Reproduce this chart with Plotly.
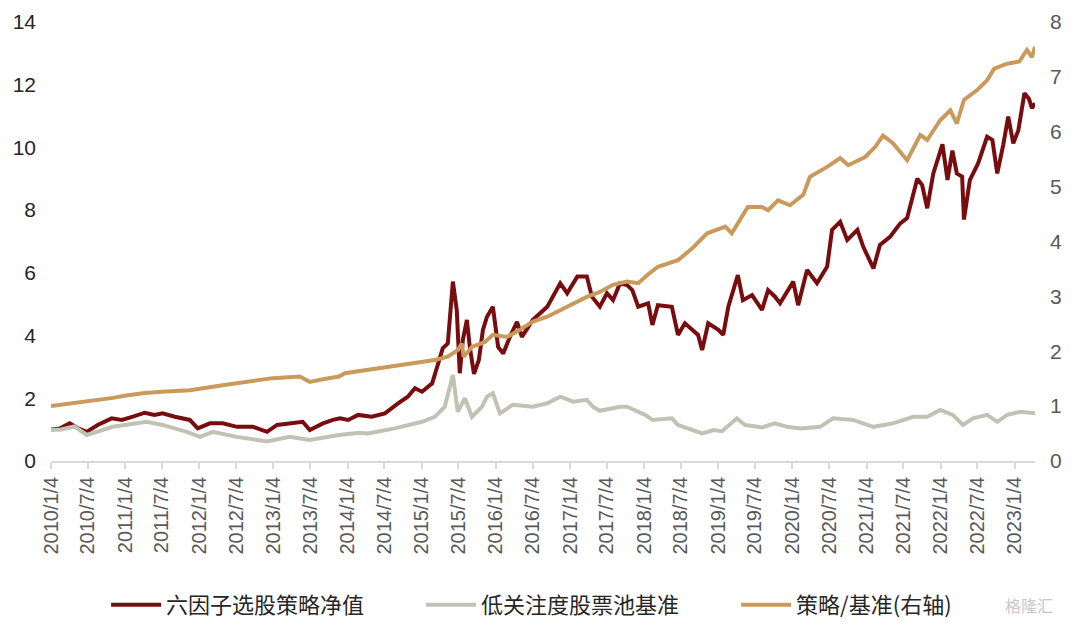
import plotly.graph_objects as go

# ---------------- data ----------------
strategy_dates = [
    "2010-01-04", "2010-02-18", "2010-04-06", "2010-05-15", "2010-06-29", "2010-08-22", "2010-10-30",
    "2010-12-19", "2011-02-08", "2011-04-11", "2011-05-29", "2011-07-08", "2011-09-06", "2011-10-25",
    "2011-11-19", "2011-12-28", "2012-02-26", "2012-04-29", "2012-07-08", "2012-09-25", "2012-12-03",
    "2013-01-22", "2013-03-25", "2013-05-28", "2013-07-02", "2013-09-05", "2013-10-24", "2013-11-28",
    "2014-01-07", "2014-02-25", "2014-05-03", "2014-07-07", "2014-09-10", "2014-10-28", "2014-12-02",
    "2015-01-06", "2015-02-25", "2015-03-24", "2015-04-18", "2015-05-13", "2015-06-07", "2015-06-26",
    "2015-07-11", "2015-07-26", "2015-08-15", "2015-08-30", "2015-09-19", "2015-10-13", "2015-11-02",
    "2015-11-22", "2015-12-21", "2016-01-16", "2016-02-10", "2016-03-14", "2016-04-18", "2016-05-12",
    "2016-07-05", "2016-09-14", "2016-11-17", "2016-12-21", "2017-02-09", "2017-03-28", "2017-04-22",
    "2017-05-31", "2017-07-05", "2017-08-04", "2017-09-08", "2017-10-12", "2017-11-07", "2017-12-06",
    "2018-01-24", "2018-02-14", "2018-03-13", "2018-05-21", "2018-06-20", "2018-07-24", "2018-09-27",
    "2018-10-17", "2018-11-16", "2019-01-05", "2019-01-29", "2019-02-23", "2019-04-11", "2019-05-06",
    "2019-06-20", "2019-08-08", "2019-09-07", "2019-10-11", "2019-11-05", "2020-01-09", "2020-02-02",
    "2020-03-17", "2020-05-05", "2020-06-24", "2020-07-18", "2020-08-27", "2020-10-01", "2020-11-20",
    "2020-12-19", "2021-02-07", "2021-03-11", "2021-04-30", "2021-06-19", "2021-07-23", "2021-09-11",
    "2021-10-05", "2021-10-30", "2021-11-29", "2022-01-13", "2022-02-07", "2022-03-03", "2022-03-25",
    "2022-04-20", "2022-04-29", "2022-05-28", "2022-07-08", "2022-08-21", "2022-09-16", "2022-10-10",
    "2022-11-09", "2022-12-03", "2022-12-28", "2023-01-22", "2023-02-21", "2023-03-15", "2023-03-30",
    "2023-04-14",
]
strategy_nav = [
    1.00, 1.04, 1.20, 1.05, 0.93, 1.15, 1.36,
    1.31, 1.41, 1.54, 1.47, 1.52, 1.41, 1.36,
    1.31, 1.04, 1.20, 1.20, 1.09, 1.09, 0.93,
    1.15, 1.20, 1.25, 0.99, 1.20, 1.31, 1.36,
    1.31, 1.47, 1.41, 1.52, 1.84, 2.05, 2.32,
    2.21, 2.48, 3.01, 3.59, 3.75, 5.72, 4.82,
    2.80, 3.86, 4.50, 3.60, 2.78, 3.22, 4.18,
    4.60, 4.92, 3.64, 3.43, 3.96, 4.44, 3.96,
    4.50, 4.92, 5.67, 5.35, 5.88, 5.88, 5.24,
    4.92, 5.35, 5.13, 5.67, 5.61, 5.45, 4.92,
    5.03, 4.34, 4.97, 4.92, 4.02, 4.39, 4.02,
    3.54, 4.39, 4.18, 4.02, 4.92, 5.93, 5.13,
    5.29, 4.82, 5.45, 5.24, 5.03, 5.72, 4.97,
    6.09, 5.67, 6.20, 7.37, 7.63, 7.05, 7.37,
    6.83, 6.14, 6.89, 7.15, 7.58, 7.75, 9.00,
    8.80, 8.06, 9.17, 10.10, 8.96, 9.90, 9.17,
    9.07, 7.70, 8.96, 9.50, 10.34, 10.24, 9.17,
    10.10, 10.98, 10.13, 10.55, 11.73, 11.55, 11.25,
    11.41,
]

benchmark_dates = [
    "2010-01-04", "2010-02-18", "2010-04-30", "2010-06-29", "2010-11-05", "2011-04-20", "2011-07-08",
    "2011-11-04", "2012-01-08", "2012-03-11", "2012-07-08", "2012-12-03", "2013-03-25", "2013-07-02",
    "2013-11-23", "2014-03-05", "2014-04-14", "2014-08-25", "2015-01-06", "2015-03-10", "2015-04-28",
    "2015-06-07", "2015-07-01", "2015-08-05", "2015-09-09", "2015-10-28", "2015-11-22", "2015-12-21",
    "2016-01-25", "2016-03-28", "2016-07-05", "2016-09-14", "2016-11-17", "2017-01-20", "2017-03-28",
    "2017-04-27", "2017-05-31", "2017-09-08", "2017-10-12", "2017-12-16", "2018-01-10", "2018-02-14",
    "2018-05-21", "2018-06-20", "2018-10-17", "2018-12-14", "2019-01-23", "2019-04-06", "2019-05-16",
    "2019-08-08", "2019-10-11", "2019-12-10", "2020-02-13", "2020-05-20", "2020-07-23", "2020-10-30",
    "2021-02-07", "2021-05-14", "2021-08-22", "2021-10-30", "2022-01-02", "2022-03-05", "2022-04-24",
    "2022-06-13", "2022-08-21", "2022-10-10", "2022-11-28", "2023-02-01", "2023-04-14",
]
benchmark_nav = [
    1.00, 1.00, 1.10, 0.83, 1.09, 1.25, 1.15,
    0.93, 0.77, 0.93, 0.77, 0.62, 0.77, 0.67,
    0.83, 0.90, 0.88, 1.04, 1.25, 1.41, 1.73,
    2.74, 1.57, 2.00, 1.41, 1.73, 2.05, 2.16,
    1.52, 1.79, 1.73, 1.84, 2.05, 1.89, 1.95,
    1.73, 1.60, 1.73, 1.73, 1.52, 1.47, 1.31,
    1.36, 1.15, 0.88, 0.99, 0.95, 1.36, 1.15,
    1.07, 1.20, 1.09, 1.04, 1.09, 1.36, 1.31,
    1.09, 1.20, 1.41, 1.41, 1.63, 1.47, 1.15,
    1.36, 1.47, 1.25, 1.47, 1.57, 1.52,
]

ratio_dates = [
    "2010-01-04", "2010-04-06", "2010-07-03", "2010-11-05", "2011-01-02", "2011-04-11", "2011-07-03",
    "2011-11-19", "2012-04-29", "2012-08-07", "2013-01-01", "2013-05-14", "2013-07-02", "2013-09-05",
    "2013-11-23", "2013-12-22", "2014-04-14", "2014-09-29", "2014-12-17", "2015-03-10", "2015-05-13",
    "2015-07-01", "2015-07-21", "2015-07-30", "2015-09-09", "2015-11-12", "2015-12-21", "2016-02-29",
    "2016-05-02", "2016-07-05", "2016-09-14", "2016-11-17", "2017-01-20", "2017-03-28", "2017-05-31",
    "2017-08-04", "2017-10-12", "2017-12-06", "2018-01-20", "2018-03-13", "2018-06-20", "2018-08-28",
    "2018-11-11", "2018-12-05", "2019-02-08", "2019-03-12", "2019-05-30", "2019-08-08", "2019-09-07",
    "2019-10-26", "2019-12-24", "2020-02-27", "2020-03-31", "2020-06-24", "2020-08-27", "2020-10-06",
    "2020-12-28", "2021-02-17", "2021-03-26", "2021-05-14", "2021-07-23", "2021-09-26", "2021-10-30",
    "2022-01-02", "2022-02-21", "2022-03-25", "2022-04-29", "2022-07-03", "2022-08-21", "2022-09-25",
    "2022-11-28", "2023-01-27", "2023-03-05", "2023-03-30", "2023-04-14",
]
ratio_nav = [
    1.00, 1.04, 1.08, 1.15, 1.19, 1.24, 1.26,
    1.29, 1.38, 1.44, 1.51, 1.54, 1.44, 1.49,
    1.54, 1.60, 1.66, 1.75, 1.78, 1.84, 1.90,
    2.02, 2.14, 1.90, 2.08, 2.17, 2.30, 2.26,
    2.39, 2.54, 2.63, 2.75, 2.87, 2.99, 3.08,
    3.21, 3.27, 3.24, 3.39, 3.54, 3.66, 3.87,
    4.15, 4.18, 4.27, 4.15, 4.63, 4.63, 4.57,
    4.75, 4.66, 4.85, 5.18, 5.36, 5.52, 5.39,
    5.54, 5.73, 5.93, 5.79, 5.48, 5.94, 5.85,
    6.21, 6.39, 6.15, 6.58, 6.76, 6.94, 7.15,
    7.24, 7.28, 7.49, 7.36, 7.55,
]

tick_dates = [
    "2010-01-04", "2010-07-04", "2011-01-04", "2011-07-04", "2012-01-04", "2012-07-04", "2013-01-04",
    "2013-07-04", "2014-01-04", "2014-07-04", "2015-01-04", "2015-07-04", "2016-01-04", "2016-07-04",
    "2017-01-04", "2017-07-04", "2018-01-04", "2018-07-04", "2019-01-04", "2019-07-04", "2020-01-04",
    "2020-07-04", "2021-01-04", "2021-07-04", "2022-01-04", "2022-07-04", "2023-01-04",
]
tick_labels = [
    "2010/1/4", "2010/7/4", "2011/1/4", "2011/7/4", "2012/1/4", "2012/7/4", "2013/1/4",
    "2013/7/4", "2014/1/4", "2014/7/4", "2015/1/4", "2015/7/4", "2016/1/4", "2016/7/4",
    "2017/1/4", "2017/7/4", "2018/1/4", "2018/7/4", "2019/1/4", "2019/7/4", "2020/1/4",
    "2020/7/4", "2021/1/4", "2021/7/4", "2022/1/4", "2022/7/4", "2023/1/4",
]

series_names = ["六因子选股策略净值", "低关注度股票池基准", "策略/基准(右轴)"]

# ---------------- figure ----------------
RED = "#770D0F"
GRAY = "#C2C2B4"
TAN = "#C99A5B"
CJK = "Noto Sans CJK SC, Liberation Sans, Arial, sans-serif"
NUM = "Liberation Sans, Arial, sans-serif"

fig = go.Figure()
fig.add_trace(go.Scatter(x=strategy_dates, y=strategy_nav, name=series_names[0], mode="lines",
                         line=dict(color=RED, width=4), yaxis="y"))
fig.add_trace(go.Scatter(x=benchmark_dates, y=benchmark_nav, name=series_names[1], mode="lines",
                         line=dict(color=GRAY, width=4), yaxis="y"))
fig.add_trace(go.Scatter(x=ratio_dates, y=ratio_nav, name=series_names[2], mode="lines",
                         line=dict(color=TAN, width=4), yaxis="y2"))

# the page body adds an 8 px margin, so the figure is 1072x616 and margins are offset by 8 px
fig.update_layout(
    width=1072, height=616,
    margin=dict(l=43, r=45, t=14, b=163, autoexpand=False),
    paper_bgcolor="white", plot_bgcolor="white",
    showlegend=True,
    legend=dict(orientation="h", x=0.056, xanchor="left", y=-0.328, yanchor="middle",
                font=dict(family=CJK, size=22, color="#262626"),
                entrywidth=250, entrywidthmode="pixels",
                itemwidth=50, traceorder="normal"),
    xaxis=dict(type="date", range=["2010-01-04", "2023-04-14"], automargin=False,
               tickvals=tick_dates, ticktext=tick_labels, tickangle=-90,
               tickfont=dict(family=NUM, size=20, color="#595959"),
               showline=True, linecolor="#D9D9D9", linewidth=1.5,
               ticks="outside", ticklen=6, tickcolor="#D9D9D9", tickwidth=1.5,
               showgrid=False, zeroline=False),
    yaxis=dict(range=[0, 14], dtick=2, showgrid=False, zeroline=False, showline=False,
               automargin=False,
               tickfont=dict(family=NUM, size=21, color="#262626"),
               ticks="", ticklabelstandoff=14),
    yaxis2=dict(range=[0, 8], dtick=1, overlaying="y", side="right", showgrid=False,
                zeroline=False, showline=False, automargin=False,
                tickfont=dict(family=NUM, size=21, color="#595959"),
                ticks="", ticklabelstandoff=14),
)

fig.add_annotation(text="格隆汇", xref="paper", yref="paper", x=1.02, y=-0.328,
                   xanchor="right", yanchor="middle", showarrow=False,
                   font=dict(family=CJK, size=16, color="#C8C8C8"))

fig.write_html("out.html")
